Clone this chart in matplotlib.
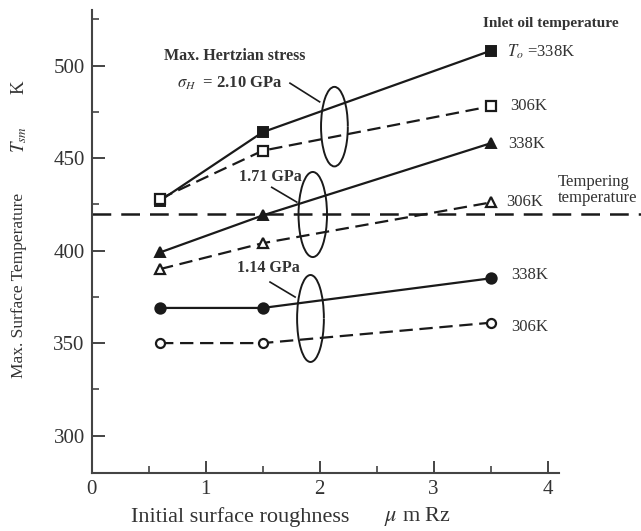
import matplotlib
matplotlib.use('Agg')
import matplotlib.pyplot as plt
from matplotlib.patches import Arc

plt.rcParams['font.family'] = ['Liberation Serif', 'DejaVu Serif']
plt.rcParams['mathtext.fontset'] = 'stix'

# roughness positions (um Rz)
roughness = [0.6, 1.5, 3.5]

# max surface temperature (K) for each Hertzian stress / inlet oil temperature
t_210_338 = [427, 464, 508]
t_210_306 = [428, 454, 478]
t_171_338 = [399, 419, 458]
t_171_306 = [390, 404, 426]
t_114_338 = [369, 369, 385]
t_114_306 = [350, 350, 361]

tempering_temp = 420

ink = '#1a1a1a'
txt = '#333333'

fig = plt.figure(figsize=(6.41, 5.31), dpi=100)
ax = fig.add_axes([0.143, 0.110, 0.729, 0.871])

solid = dict(color=ink, lw=1.6, ls='-', mew=1.4, mec=ink, clip_on=False)
dash = dict(color=ink, lw=1.6, ls=(0, (6, 3)), mew=1.6, mec=ink,
            mfc='white', clip_on=False)

ax.plot(roughness, t_210_338, marker='s', ms=7.5, mfc=ink, **solid)
ax.plot(roughness, t_210_306, marker='s', ms=7.5, **dash)
ax.plot(roughness, t_171_338, marker='^', ms=7.5, mfc=ink, **solid)
ax.plot(roughness, t_171_306, marker='^', ms=7.5, **dash)
ax.plot(roughness, t_114_338, marker='o', ms=7.5, mfc=ink, **solid)
ax.plot(roughness, t_114_306, marker='o', ms=6.5, **dash)

# tempering temperature line, running past the axes to the figure edge
ax.axhline(tempering_temp, xmin=0, xmax=1.175, color=ink, lw=1.8,
           ls=(0, (7.5, 4)), clip_on=False)

# ellipses grouping the pairs of lines (gap on the right side)
for cx, cy, w, h, gap in [(2.13, 467, 0.235, 43, (-16, 33)),
                          (1.94, 419.5, 0.25, 46, (-22, 32)),
                          (1.92, 363.3, 0.235, 47, (-33, 33))]:
    ax.add_patch(Arc((cx, cy), w, h, theta1=gap[1], theta2=360 + gap[0],
                     color=ink, lw=1.4))

# leader lines from stress labels
ax.plot([1.74, 2.0], [490.5, 480.4], color=ink, lw=1.2)
ax.plot([1.58, 1.80], [434.2, 426.2], color=ink, lw=1.2)
ax.plot([1.565, 1.785], [383.0, 374.9], color=ink, lw=1.2)

ax.text(1.257, 505, 'Max. Hertzian stress', ha='center', va='center',
        fontsize=11.5, fontweight='bold', color=txt)
ax.text(1.68, 490.4, r'$\sigma_H$  = 2.10 GPa', ha='right', va='center',
        fontsize=12, fontweight='bold', color=txt)
ax.text(1.84, 439.7, '1.71 GPa', ha='right', va='center',
        fontsize=11.5, fontweight='bold', color=txt)
ax.text(1.83, 390.5, '1.14 GPa', ha='right', va='center',
        fontsize=11.5, fontweight='bold', color=txt)

ax.text(3.435, 522.5, 'Inlet oil temperature', ha='left', va='center',
        fontsize=11, fontweight='bold', color=txt, clip_on=False)
ax.text(3.64, 507.6, r'$T_o$ =338K', ha='left', va='center',
        fontsize=12, color=txt)
ax.text(3.67, 478, '306K', ha='left', va='center', fontsize=12, color=txt)
ax.text(3.655, 457.4, '338K', ha='left', va='center', fontsize=12, color=txt)
ax.text(3.64, 426.5, '306K', ha='left', va='center', fontsize=12, color=txt)
ax.text(3.68, 386.6, '338K', ha='left', va='center', fontsize=12, color=txt)
ax.text(3.68, 358.8, '306K', ha='left', va='center', fontsize=12, color=txt)
ax.text(4.09, 432.8, 'Tempering\ntemperature', ha='left', va='center',
        fontsize=12, color=txt, linespacing=1.05)

ax.set_xlim(0, 4.1)
ax.set_ylim(280, 530)
ax.set_xticks([0, 1, 2, 3, 4])
ax.set_xticks([0.5, 1.5, 2.5, 3.5], minor=True)
ax.set_yticks([300, 350, 400, 450, 500])
ax.set_yticks([325, 375, 425, 475, 525], minor=True)

ax.spines['top'].set_visible(False)
ax.spines['right'].set_visible(False)
for s in ('left', 'bottom'):
    ax.spines[s].set_color('#444444')
    ax.spines[s].set_linewidth(1.5)

ax.tick_params(which='major', direction='in', length=9, width=1.4,
               colors='#444444', labelsize=15, labelcolor=txt, pad=5)
ax.tick_params(which='minor', direction='in', length=5, width=1.2,
               colors='#444444')

# axis titles, placed in pieces to keep the wide gaps of the original
fig.text(240.5 / 641, 1 - 517 / 531, 'Initial surface roughness',
         ha='center', va='center', fontsize=16, color=txt)
fig.text(417 / 641, 1 - 517 / 531, r'$\mu$ m Rz',
         ha='center', va='center', fontsize=16, color=txt)
fig.text(19 / 641, 1 - 285.5 / 531, 'Max. Surface Temperature',
         ha='center', va='center', rotation=90, fontsize=12.5, color=txt)
fig.text(19 / 641, 1 - 140 / 531, r'$T_{sm}$',
         ha='center', va='center', rotation=90, fontsize=13.5, color=txt)
fig.text(19 / 641, 1 - 87 / 531, 'K',
         ha='center', va='center', rotation=90, fontsize=13.5, color=txt)

fig.savefig('out.png', dpi=100)
